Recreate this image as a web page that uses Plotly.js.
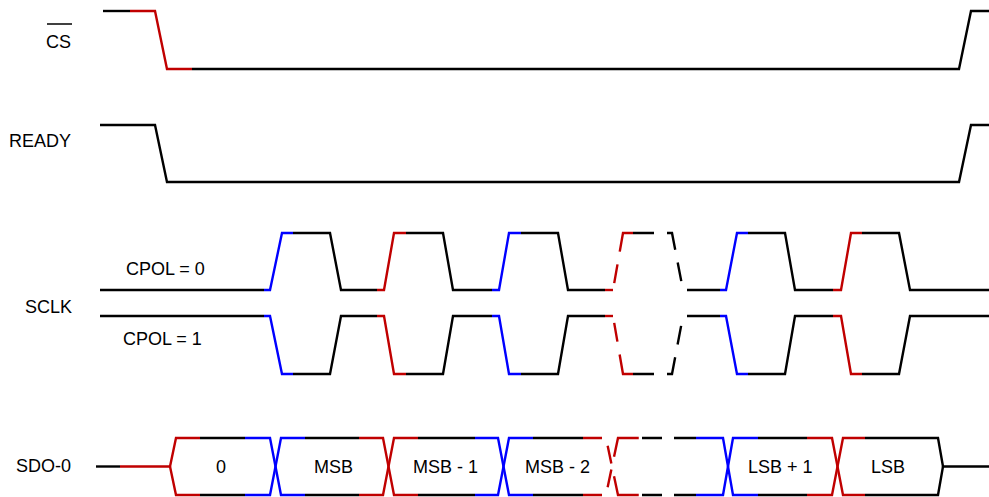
<!DOCTYPE html>
<html><head><meta charset="utf-8">
<script src="https://cdn.plot.ly/plotly-3.0.1.min.js"></script>
<style>html,body{margin:0;padding:0;background:#fff;overflow:hidden}#chart{width:989px;height:497px}</style>
</head><body><div id="chart"></div>
<script>
// ---------------- data: waveform vertices (time, logic level) ----------------
const csTime     = [103, 155, 167, 959, 971, 989];
const csLevel    = [1, 1, 0, 0, 1, 1];
const readyTime  = [100, 155, 167, 959, 971, 989];
const readyLevel = [1, 1, 0, 0, 1, 1];
const sclkTime   = [100, 270, 282, 330, 341, 384, 394, 443, 453, 499, 509, 558, 568, 613, 623, 672, 683, 726, 737, 785, 795, 841, 851, 899, 910, 989];
const sclkLevel  = [0, 0, 1, 1, 0, 0, 1, 1, 0, 0, 1, 1, 0, 0, 1, 1, 0, 0, 1, 1, 0, 0, 1, 1, 0, 0]; // CPOL = 0 (CPOL = 1 is its inverse)
const sdoIdleIn    = [96, 170];
const sdoOpenEnd   = 176;
const sdoCross     = [270, 383, 498, 606, 723, 832];
const sdoCrossEnd  = [281, 394, 509, 618, 733, 843];
const sdoCloseStart = 938;
const sdoIdleOut   = [943, 989];
const sdoBits      = ['0', 'MSB', 'MSB - 1', 'MSB - 2', 'LSB + 1', 'LSB'];
const sdoBitTime   = [221, 333, 445.5, 557, 780.5, 887.5];
const signalNames  = ['CS', 'READY', 'SCLK', 'SDO-0'];

// highlighted (coloured) time spans
const csMarks   = [[130, 192, 'red']];
const sclkMarks = [[264, 293, 'blue'], [377, 406, 'red'], [492, 521, 'blue'], [605, 633, 'red'], [720, 748, 'blue'], [833, 862, 'red']];
const sdoMarks  = [[120, 200, 'red'], [245, 305, 'blue'], [359, 418, 'red'], [475, 533, 'blue'], [583, 640, 'red'], [696, 758, 'blue'], [807, 865, 'red']];
// dashed ("time break") spans
const sclkBreak = [[613, 633, '0px,7px,19px,13px,200px'], [633, 687, '21px,13px,22px,13px,19px,200px']];
const sdoBreak  = [[583, 640, '19px,12px,18px,13px,40px,10px'], [640, 696, '0px,2px,20px,12px,22px,50px']];

// ---------------- layout / style ----------------
const COLORS = {black: '#000000', red: '#c00000', blue: '#0000ff'};
const LW = 2.4;
const FONT = {family: 'Liberation Sans, Arial, sans-serif', size: 18, color: '#000'};
const rows = {
  cs:    {high: 11,  low: 69},
  ready: {high: 125, low: 182},
  cpol0: {high: 233, low: 290},
  cpol1: {high: 316, low: 374},
  sdo:   {high: 438, low: 495}
};
const toY = (row, lv) => row.low - lv * (row.low - row.high);

function clip(xs, ys, t0, t1) {
  const ox = [], oy = [];
  const interp = t => {
    for (let i = 0; i < xs.length - 1; i++) {
      if (t >= xs[i] && t <= xs[i + 1]) {
        if (xs[i + 1] === xs[i]) return ys[i];
        return ys[i] + (ys[i + 1] - ys[i]) * (t - xs[i]) / (xs[i + 1] - xs[i]);
      }
    }
    return ys[ys.length - 1];
  };
  ox.push(t0); oy.push(interp(t0));
  for (let i = 0; i < xs.length; i++) if (xs[i] > t0 && xs[i] < t1) { ox.push(xs[i]); oy.push(ys[i]); }
  ox.push(t1); oy.push(interp(t1));
  return [ox, oy];
}

const traces = [];
function draw(xs, ys, marks, breaks) {
  marks = marks || []; breaks = breaks || [];
  const a = xs[0], b = xs[xs.length - 1];
  let pts = [a, b];
  marks.forEach(m => pts.push(m[0], m[1]));
  breaks.forEach(m => pts.push(m[0], m[1]));
  pts = [...new Set(pts.filter(p => p >= a && p <= b))].sort((p, q) => p - q);
  for (let i = 0; i < pts.length - 1; i++) {
    const t0 = pts[i], t1 = pts[i + 1], mid = (t0 + t1) / 2;
    let color = 'black', dash = 'solid';
    marks.forEach(m => { if (mid > m[0] && mid < m[1]) color = m[2]; });
    breaks.forEach(m => { if (mid > m[0] && mid < m[1]) dash = m[2]; });
    const [cx, cy] = clip(xs, ys, t0, t1);
    traces.push({x: cx, y: cy, type: 'scatter', mode: 'lines', hoverinfo: 'skip', showlegend: false,
      line: {color: COLORS[color], width: LW, dash: dash}});
  }
}

// CS and READY
draw(csTime, csLevel.map(v => toY(rows.cs, v)), csMarks);
draw(readyTime, readyLevel.map(v => toY(rows.ready, v)));
// SCLK both polarities
draw(sclkTime, sclkLevel.map(v => toY(rows.cpol0, v)), sclkMarks, sclkBreak);
draw(sclkTime, sclkLevel.map(v => toY(rows.cpol1, 1 - v)), sclkMarks, sclkBreak);
// SDO bus: two mirrored paths
function busPath(startLv, withIdle) {
  const xs = [], lv = [];
  if (withIdle) { xs.push(sdoIdleIn[0]); lv.push(0.5); }
  xs.push(sdoIdleIn[1]); lv.push(0.5);
  let cur = startLv;
  xs.push(sdoOpenEnd); lv.push(cur);
  for (let i = 0; i < sdoCross.length; i++) {
    xs.push(sdoCross[i]); lv.push(cur);
    cur = 1 - cur;
    xs.push(sdoCrossEnd[i]); lv.push(cur);
  }
  xs.push(sdoCloseStart); lv.push(cur);
  xs.push(sdoIdleOut[0]); lv.push(0.5);
  if (withIdle) { xs.push(sdoIdleOut[1]); lv.push(0.5); }
  return [xs, lv.map(v => toY(rows.sdo, v))];
}
let p = busPath(1, true);  draw(p[0], p[1], sdoMarks, sdoBreak);
p = busPath(0, false);     draw(p[0], p[1], sdoMarks, sdoBreak);

// ---------------- text ----------------
const ann = [];
const label = (text, x, y, xa) => ann.push({text: text, x: x, y: y, xref: 'x', yref: 'y', xanchor: xa || 'right', yanchor: 'middle', showarrow: false, font: FONT});
label(signalNames[0], 73, 42);
label(signalNames[1], 73, 141);
label(signalNames[2], 74, 307);
label(signalNames[3], 73, 466);
label('CPOL = 0', 165.5, 269, 'center');
label('CPOL = 1', 162.5, 338.5, 'center');
sdoBits.forEach((t, i) => label(t, sdoBitTime[i], (rows.sdo.high + rows.sdo.low) / 2, 'center'));

const layout = {
  width: 989, height: 497,
  margin: {l: 0, r: 0, t: 0, b: 0, pad: 0},
  paper_bgcolor: '#fff', plot_bgcolor: '#fff',
  xaxis: {range: [0, 989], visible: false, fixedrange: true},
  yaxis: {range: [497, 0], visible: false, fixedrange: true},
  annotations: ann,
  shapes: [{type: 'line', xref: 'x', yref: 'y', x0: 47, x1: 72, y0: 24, y1: 24, line: {color: '#000', width: 1.5}}],
  showlegend: false
};
Plotly.newPlot('chart', traces, layout, {staticPlot: true, displayModeBar: false});
</script></body></html>
